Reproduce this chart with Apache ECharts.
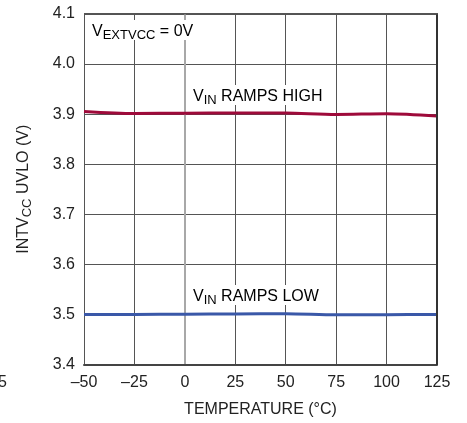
<!DOCTYPE html>
<html>
<head>
<meta charset="utf-8">
<script src="https://cdn.jsdelivr.net/npm/echarts@6/dist/echarts.min.js"></script>
<style>
html,body{margin:0;padding:0;background:#fff;}
#c{width:467px;height:423px;}
</style>
</head>
<body>
<div id="c"></div>
<script>
var temps = [-50, -25, 0, 25, 50, 75, 100, 125];
var rampsHigh = [3.9055, 3.9015, 3.902, 3.9025, 3.9022, 3.8995, 3.901, 3.8965];
var rampsLow = [3.500, 3.500, 3.5005, 3.501, 3.5015, 3.4995, 3.4995, 3.500];
var xTicks = [-50, -25, 0, 25, 50, 75, 100, 125];
var yTicks = [3.4, 3.5, 3.6, 3.7, 3.8, 3.9, 4.0, 4.1];

var FONT = '"Liberation Sans", Arial, sans-serif';
var TXT = '#222';

function pairs(xs, ys){ return xs.map(function(x,i){ return [x, ys[i]]; }); }

var chart = echarts.init(document.getElementById('c'), null, {renderer:'canvas'});
var richBase = {
  n: {fontSize: 16, fontFamily: FONT, color: TXT, lineHeight: 20, verticalAlign: 'bottom'},
  s: {fontSize: 13, fontFamily: FONT, color: TXT, lineHeight: 5, verticalAlign: 'top', padding: [9, 0, 0, 0]}
};
chart.setOption({
  animation: false,
  backgroundColor: '#fff',
  grid: {left: 84, right: 30, top: 14, bottom: 58.5, containLabel: false},
  xAxis: {
    type: 'value', min: -50, max: 125, interval: 25,
    name: 'TEMPERATURE (°C)', nameLocation: 'middle', nameGap: 37,
    nameTextStyle: {fontFamily: FONT, fontSize: 16, color: TXT},
    axisLine: {show: true, onZero: false, lineStyle: {color: '#444', width: 2}},
    axisTick: {show: false},
    axisLabel: {margin: 10, fontFamily: FONT, fontSize: 16, color: TXT,
      formatter: function(v){ return String(v).replace('-', '\u2013'); }},
    splitLine: {show: true, lineStyle: {color: '#555', width: 1}}
  },
  yAxis: {
    type: 'value', min: 3.4, max: 4.1, interval: 0.1,
    name: '{n|INTV}{s|CC}{n| UVLO (V)}', nameLocation: 'middle', nameGap: 52, nameRotate: 90,
    nameTextStyle: {rich: richBase},
    axisLine: {show: true, lineStyle: {color: '#a8a8a8', width: 2}},
    axisTick: {show: false},
    axisLabel: {margin: 9, fontFamily: FONT, fontSize: 16, color: TXT,
      formatter: function(v){ return v.toFixed(1); }},
    splitLine: {show: true, lineStyle: {color: '#555', width: 1}}
  },
  series: [
    {type: 'line', data: pairs(temps, rampsHigh), showSymbol: false, smooth: 0.3,
     lineStyle: {color: '#9e0a3a', width: 3}, z: 3},
    {type: 'line', data: pairs(temps, rampsLow), showSymbol: false, smooth: 0.3,
     lineStyle: {color: '#3a58a8', width: 3}, z: 3}
  ],
  graphic: [
    {type: 'rect', shape: {x: 436, y: 14, width: 2, height: 351}, style: {fill: '#333'}, z: 10},
    {type: 'rect', shape: {x: 84, y: 13, width: 354, height: 1.5}, style: {fill: '#555'}, z: 10},
    {type: 'text', x: 92, y: 20, z: 20,
     style: {text: '{n|V}{s|EXTVCC}{n| = 0V}', rich: richBase, backgroundColor: '#fff', padding: [0,2,0,0]}},
    {type: 'text', x: 191, y: 85, z: 20,
     style: {text: '{n|V}{s|IN}{n| RAMPS HIGH}', rich: richBase, backgroundColor: '#fff', padding: [0,4,0,2]}},
    {type: 'text', x: 191, y: 285, z: 20,
     style: {text: '{n|V}{s|IN}{n| RAMPS LOW}', rich: richBase, backgroundColor: '#fff', padding: [0,4,0,2]}},
    {type: 'text', x: 7, y: 383, z: 20,
     style: {text: '125', fontFamily: FONT, fontSize: 16, fill: TXT, textAlign: 'right', textVerticalAlign: 'middle'}}
  ]
});
</script>
</body>
</html>
